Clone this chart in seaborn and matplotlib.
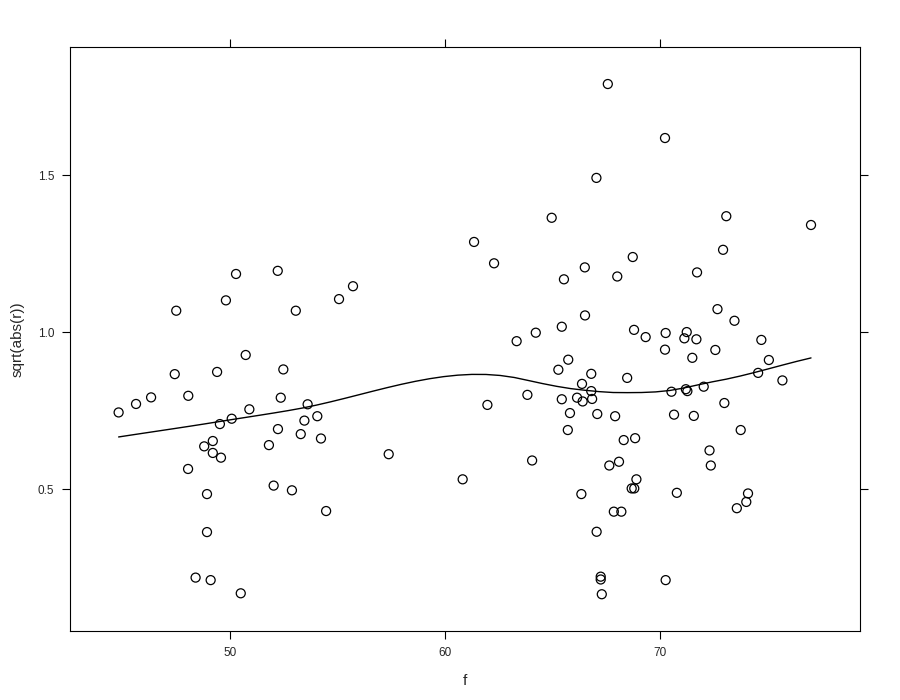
import numpy as np
import pandas as pd
import matplotlib
matplotlib.use("Agg")
import matplotlib.pyplot as plt
import seaborn as sns

# valeurs
f = [44.82, 45.63, 46.33, 47.43, 47.50, 48.06, 48.05, 48.40, 48.80, 48.93,
     48.93, 49.10, 49.20, 49.20, 49.40, 49.58, 49.53, 50.08, 49.81, 50.28,
     50.50, 50.73, 50.90, 51.81, 52.03, 52.22, 52.23, 52.36, 52.48, 52.88,
     53.06, 53.29, 53.46, 53.61, 54.06, 54.23, 54.47, 55.07, 55.72, 57.38,
     60.82, 61.35, 61.97, 62.28, 63.33, 63.83, 64.05, 64.22, 64.96, 65.27,
     65.43, 65.43, 65.53, 65.71, 65.73, 65.81, 66.14, 66.34, 66.37, 66.40,
     66.50, 66.51, 66.80, 66.80, 66.84, 67.04, 67.05, 67.08, 67.24, 67.24,
     67.29, 67.57,
     67.64, 67.85, 67.91, 68.01, 68.09, 68.20, 68.31, 68.47, 68.68, 68.73,
     68.79, 68.80, 68.84, 68.90, 69.33, 70.23, 70.23, 70.26, 70.26, 70.53,
     70.65, 70.78, 71.13, 71.20, 71.24, 71.27, 71.50, 71.57, 71.69, 71.72,
     72.03, 72.30, 72.36, 72.57, 72.67, 72.93, 72.99, 73.08, 73.46, 73.57,
     73.75, 74.01, 74.09, 74.56, 74.71, 75.06, 75.69, 77.02]
r = [0.744, 0.771, 0.792, 0.866, 1.068, 0.797, 0.564, 0.218, 0.636, 0.484,
     0.363, 0.210, 0.653, 0.615, 0.873, 0.600, 0.707, 0.724, 1.101, 1.185,
     0.168, 0.927, 0.754, 0.640, 0.511, 1.195, 0.691, 0.791, 0.881, 0.496,
     1.068, 0.675, 0.718, 0.770, 0.732, 0.661, 0.430, 1.105, 1.146, 0.611,
     0.531, 1.287, 0.768, 1.219, 0.971, 0.800, 0.591, 0.998, 1.364, 0.880,
     1.017, 0.786, 1.168, 0.688, 0.912, 0.742, 0.791, 0.484, 0.835, 0.779,
     1.206, 1.053, 0.867, 0.812, 0.787, 1.491, 0.364, 0.739, 0.221, 0.212,
     0.165, 1.790,
     0.575, 0.428, 0.732, 1.177, 0.587, 0.428, 0.656, 0.854, 0.502, 1.239,
     1.007, 0.502, 0.662, 0.531, 0.984, 1.618, 0.944, 0.997, 0.210, 0.810,
     0.737, 0.488, 0.980, 0.818, 1.000, 0.812, 0.918, 0.733, 0.977, 1.190,
     0.826, 0.623, 0.575, 0.943, 1.073, 1.262, 0.774, 1.369, 1.036, 0.439,
     0.688, 0.459, 0.486, 0.870, 0.975, 0.911, 0.846, 1.341]

x_ticks = [50, 60, 70]
y_ticks = [0.5, 1.0, 1.5]


def local_fit(x, y, rw, x0, q):
    """ajustement local lineaire, poids tricube -> (valeur, pente)"""
    d = np.abs(x - x0)
    h = np.sort(d)[q - 1]
    w = np.clip(1 - (d / h) ** 3, 0, None) ** 3 * rw
    A = np.vstack([np.ones_like(x), x - x0]).T
    AtW = A.T * w
    beta = np.linalg.solve(AtW @ A, AtW @ y)
    return beta[0], beta[1]


def kd_vertices(xs, fc):
    xs = np.sort(xs)
    lo, hi = xs[0], xs[-1]
    marg = 0.005 * (hi - lo)
    verts = {lo - marg, hi + marg}

    def split(pts):
        if len(pts) <= fc:
            return
        m = len(pts) // 2
        v = pts[m] if len(pts) % 2 else (pts[m - 1] + pts[m]) / 2
        verts.add(v)
        split(pts[pts <= v])
        split(pts[pts > v])

    split(xs)
    return np.array(sorted(verts))


def hermite(v, vals, slopes, xq):
    out = np.empty_like(xq)
    for k, x0 in enumerate(xq):
        i = np.clip(np.searchsorted(v, x0) - 1, 0, len(v) - 2)
        h = v[i + 1] - v[i]
        t = (x0 - v[i]) / h
        h00 = 2 * t**3 - 3 * t**2 + 1
        h10 = t**3 - 2 * t**2 + t
        h01 = -2 * t**3 + 3 * t**2
        h11 = t**3 - t**2
        out[k] = (h00 * vals[i] + h10 * h * slopes[i]
                  + h01 * vals[i + 1] + h11 * h * slopes[i + 1])
    return out


def loess(x, y, grid, span=2/3, iterations=4, cell=0.2):
    """loess degre 1, famille symmetric, surface interpolee (style R)"""
    x = np.asarray(x, float)
    y = np.asarray(y, float)
    n = len(x)
    q = int(np.floor(n * span))
    fc = int(np.floor(n * span * cell))
    v = kd_vertices(x, fc)
    rw = np.ones(n)
    for it in range(iterations):
        fits = np.array([local_fit(x, y, rw, v0, q) for v0 in v])
        fitted = hermite(v, fits[:, 0], fits[:, 1], x)
        if it < iterations - 1:
            res = y - fitted
            cmad = 6 * np.median(np.abs(res))
            u = np.abs(res) / cmad
            rw = np.where(u < 1, (1 - u**2) ** 2, 0.0)
    return hermite(v, fits[:, 0], fits[:, 1], np.asarray(grid, float))


df = pd.DataFrame({"f": f, "r": r})
grid = np.linspace(min(f), max(f), 50)
smooth = pd.DataFrame({"f": grid, "r": loess(f, r, grid)})

sns.set_style("ticks")
plt.rcParams['font.family'] = ['Liberation Sans', 'DejaVu Sans']

fig = plt.figure(figsize=(9, 7), dpi=100)
ax = fig.add_axes([0.0778, 0.0986, 0.8778, 0.8343])

sns.scatterplot(data=df, x="f", y="r", ax=ax, marker="o", s=42,
                facecolors="none", edgecolor="black", linewidth=0.9)
sns.lineplot(data=smooth, x="f", y="r", ax=ax, color="black", linewidth=1.0)

ax.set_xlim(42.56, 79.30)
ax.set_ylim(0.048, 1.908)
ax.set_xticks(x_ticks)
ax.set_yticks(y_ticks)
ax.set_xticklabels([str(t) for t in x_ticks])
ax.set_yticklabels([f"{t:.1f}" for t in y_ticks])
ax.tick_params(axis="both", direction="out", length=5.5, width=0.8,
               labelsize=8.5, pad=6, color="black", top=True, right=True,
               labeltop=False, labelright=False)
for sp in ax.spines.values():
    sp.set_visible(True)
    sp.set_linewidth(0.8)
    sp.set_color("black")

ax.set_xlabel("f", fontsize=11, labelpad=11)
ax.set_ylabel("sqrt(abs(r))", fontsize=11, labelpad=9)

fig.savefig("out.png", dpi=100)
